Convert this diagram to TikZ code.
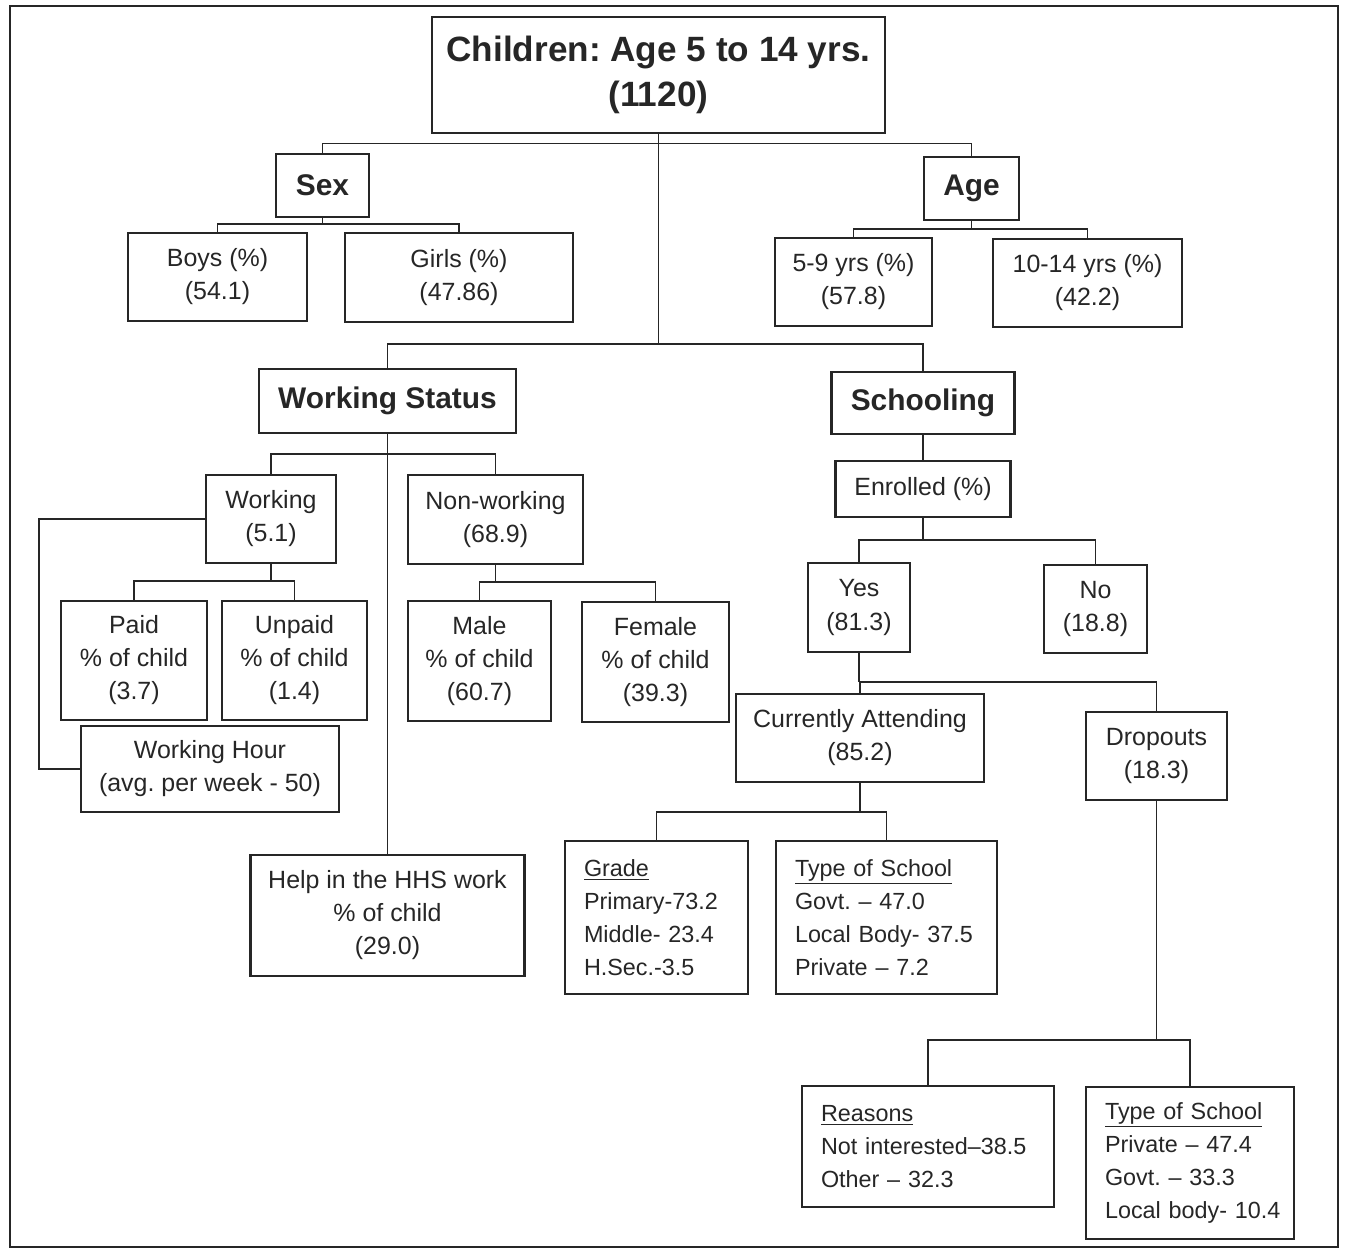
\documentclass[tikz,border=0pt]{standalone}
\usepackage{fontspec}
\setmainfont{Liberation Sans}
\begin{document}
\frenchspacing
\begin{tikzpicture}[
	box/.style={draw=black!85, line width=1.3pt, inner sep=0pt, align=center, text=black!85, font=\fontsize{14.2}{18.8}\selectfont},
	head/.style={box, font=\fontsize{17}{21}\selectfont\bfseries},
	listbox/.style={box, align=left, inner xsep=0.38cm, font=\fontsize{13.3}{18.8}\selectfont},
	link/.style={draw=black!85, line width=1pt}
	]
	\useasboundingbox (0,0) rectangle (26.9,-24.98);
	\draw[line width=1.3pt, black!85] (0.2,-0.12) rectangle (26.76,-24.94);
	
	\node[box, minimum width=9.06cm, minimum height=2.32cm, font=\fontsize{20}{25.6}\selectfont\bfseries] (root) at (13.17,-1.5) {Children: Age 5 to 14 yrs.\\(1120)};
	
	% sex and age
	{
		\node[head, minimum width=1.86cm, minimum height=1.26cm] (sex) at (6.45,-3.71) {Sex};
		\node[head, minimum width=1.9cm, minimum height=1.26cm] (age) at (19.43,-3.77) {Age};
		\node[box, minimum width=3.58cm, minimum height=1.76cm] (boys) at (4.35,-5.54) {Boys (\%)\\(54.1)};
		\node[box, minimum width=4.56cm, minimum height=1.78cm] (girls) at (9.18,-5.55) {Girls (\%)\\(47.86)};
		\node[box, minimum width=3.14cm, minimum height=1.76cm] (young) at (17.07,-5.64) {5-9 yrs (\%)\\(57.8)};
		\node[box, minimum width=3.78cm, minimum height=1.76cm] (old) at (21.75,-5.66) {10-14 yrs (\%)\\(42.2)};
		
		\coordinate (topbar) at (13.17,-2.87);
		\coordinate (sexbar) at (6.45,-4.48);
		\coordinate (agebar) at (19.43,-4.58);
		\draw[link] (sex.north) |- (topbar) -| (age.north);
		\draw[link] (sex.south) -- (sexbar);
		\draw[link] (boys.north) |- (sexbar) -| (girls.north);
		\draw[link] (age.south) -- (agebar);
		\draw[link] (young.north) |- (agebar) -| (old.north);
	}
	
	% working status
	{
		\node[head, minimum width=5.14cm, minimum height=1.28cm] (ws) at (7.75,-8.02) {Working Status};
		\node[box, minimum width=2.6cm, minimum height=1.76cm] (working) at (5.42,-10.38) {Working\\(5.1)};
		\node[box, minimum width=3.5cm, minimum height=1.78cm] (nonwork) at (9.91,-10.39) {Non-working\\(68.9)};
		\node[box, minimum width=2.92cm, minimum height=2.38cm] (paid) at (2.68,-13.21) {Paid\\\% of child\\(3.7)};
		\node[box, minimum width=2.9cm, minimum height=2.38cm] (unpaid) at (5.89,-13.21) {Unpaid\\\% of child\\(1.4)};
		\node[box, minimum width=2.86cm, minimum height=2.4cm] (male) at (9.59,-13.22) {Male\\\% of child\\(60.7)};
		\node[box, minimum width=2.94cm, minimum height=2.4cm] (female) at (13.11,-13.24) {Female\\\% of child\\(39.3)};
		\node[box, minimum width=5.16cm, minimum height=1.72cm] (hour) at (4.2,-15.38) {Working Hour\\(avg. per week - 50)};
		\node[box, minimum width=5.48cm, minimum height=2.42cm] (help) at (7.75,-18.31) {Help in the HHS work\\\% of child\\(29.0)};
		
		\coordinate (wsbar) at (7.75,-9.08);
		\coordinate (wkbar) at (5.42,-11.62);
		\coordinate (nwbar) at (9.91,-11.64);
		\coordinate (wkleft) at (0.78,-10.38);
		\draw[link] (ws.south) -- (help.north);
		\draw[link] (working.north) |- (wsbar) -| (nonwork.north);
		\draw[link] (working.south) -- (wkbar);
		\draw[link] (paid.north) |- (wkbar) -| (unpaid.north);
		\draw[link] (nonwork.south) -- (nwbar);
		\draw[link] (male.north) |- (nwbar) -| (female.north);
		\draw[link] (working.west) -- (wkleft) |- (hour.west);
	}
	
	% schooling
	{
		\node[head, minimum width=3.66cm, minimum height=1.24cm] (school) at (18.46,-8.06) {Schooling};
		\node[box, minimum width=3.5cm, minimum height=1.12cm] (enrol) at (18.46,-9.78) {Enrolled (\%)};
		\node[box, minimum width=2.04cm, minimum height=1.78cm] (yes) at (17.18,-12.15) {Yes\\(81.3)};
		\node[box, minimum width=2.06cm, minimum height=1.76cm] (no) at (21.91,-12.18) {No\\(18.8)};
		\node[box, minimum width=4.96cm, minimum height=1.76cm] (attend) at (17.2,-14.76) {Currently Attending\\(85.2)};
		\node[box, minimum width=2.82cm, minimum height=1.76cm] (drop) at (23.13,-15.12) {Dropouts\\(18.3)};
		\node[listbox, text width=2.9cm, minimum height=3.06cm] (grade) at (13.13,-18.35) {\underline{Grade}\\Primary-73.2\\Middle- 23.4\\H.Sec.-3.5};
		\node[listbox, text width=3.66cm, minimum height=3.06cm] (typea) at (17.73,-18.35) {\underline{Type of School}\\Govt. -- 47.0\\\mbox{Local Body- 37.5}\\Private -- 7.2};
		\node[listbox, text width=4.28cm, minimum height=2.42cm] (reason) at (18.56,-22.93) {\underline{Reasons}\\\mbox{Not interested--38.5}\\Other -- 32.3};
		\node[listbox, text width=3.4cm, minimum height=3.04cm] (typeb) at (23.8,-23.26) {\underline{Type of School}\\Private -- 47.4\\Govt. -- 33.3\\\mbox{Local body- 10.4}};
		
		\coordinate (enbar) at (18.46,-10.8);
		\coordinate (yesbar) at (17.18,-13.64);
		\coordinate (attbar) at (17.2,-16.24);
		\coordinate (dropbar) at (23.13,-20.8);
		\draw[link] (school.south) -- (enrol.north);
		\draw[link] (enrol.south) -- (enbar);
		\draw[link] (yes.north) |- (enbar) -| (no.north);
		\draw[link] (yes.south) -- (yesbar);
		\draw[link] (attend.north) |- (yesbar) -| (drop.north);
		\draw[link] (attend.south) -- (attbar);
		\draw[link] (grade.north) |- (attbar) -| (typea.north);
		\draw[link] (drop.south) -- (dropbar);
		\draw[link] (reason.north) |- (dropbar) -| (typeb.north);
	}
	
	% main stem
	\coordinate (midbar) at (13.17,-6.88);
	\draw[link] (root.south) -- (midbar);
	\draw[link] (ws.north) |- (midbar) -| (school.north);
\end{tikzpicture}
\end{document}
